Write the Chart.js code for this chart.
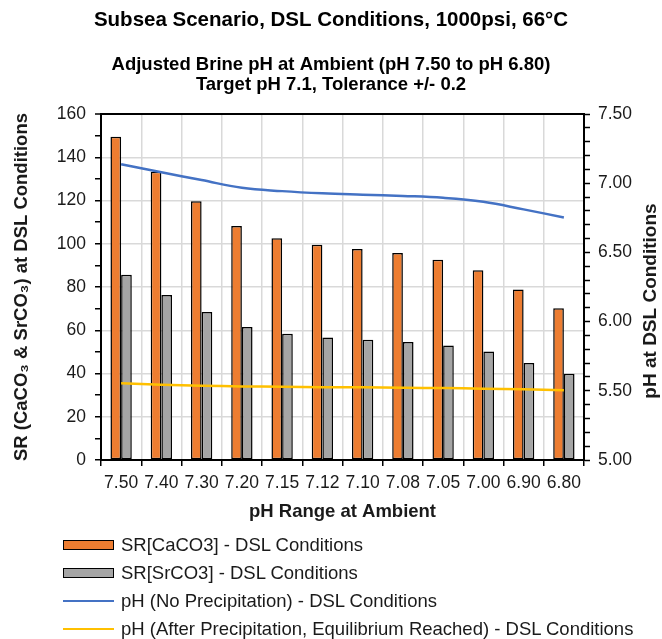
<!DOCTYPE html>
<html>
<head>
<meta charset="utf-8">
<script src="https://cdn.jsdelivr.net/npm/chart.js@4.4.0/dist/chart.umd.min.js"></script>
<style>
  html, body { margin: 0; padding: 0; background: #fff; }
  #wrap { position: relative; width: 662px; height: 639px; }
  #legend { position: absolute; left: 63px; top: 531px; font: 18.5px "Liberation Sans", Arial, sans-serif; color: #1a1a1a; }
  .item { height: 28px; display: flex; align-items: center; white-space: nowrap; }
  .swatch { width: 51px; height: 10px; margin-right: 7px; box-sizing: border-box; flex: none; }
</style>
</head>
<body>
<div id="wrap">
  <canvas id="chart" width="662" height="639"></canvas>
  <div id="legend"></div>
</div>
<script>
// Data
const categories = ['7.50', '7.40', '7.30', '7.20', '7.15', '7.12', '7.10', '7.08', '7.05', '7.00', '6.90', '6.80'];
const srCaCO3 = [149.5, 133.3, 119.7, 108.2, 102.6, 99.5, 97.6, 95.7, 92.6, 87.8, 78.9, 70.2];
const srSrCO3 = [85.7, 76.3, 68.4, 61.5, 58.4, 56.7, 55.6, 54.6, 52.9, 50.2, 44.9, 39.9];
const phNoPrecip = [7.137, 7.079, 7.023, 6.967, 6.943, 6.927, 6.917, 6.908, 6.895, 6.866, 6.811, 6.753];
const phAfterPrecip = [5.554, 5.544, 5.537, 5.532, 5.529, 5.525, 5.525, 5.522, 5.520, 5.515, 5.511, 5.504];

const seriesNames = [
  'SR[CaCO3] - DSL Conditions',
  'SR[SrCO3] - DSL Conditions',
  'pH (No Precipitation) - DSL Conditions',
  'pH (After Precipitation, Equilibrium Reached) - DSL Conditions'
];
const mainTitle = 'Subsea Scenario, DSL Conditions, 1000psi, 66°C';
const subTitle = ['Adjusted Brine pH at Ambient (pH 7.50 to pH 6.80)', 'Target pH 7.1, Tolerance +/- 0.2'];
const xTitle = 'pH Range at Ambient';
const leftTitle = 'SR (CaCO₃ & SrCO₃) at DSL Conditions';
const rightTitle = 'pH at DSL Conditions';

const textColor = '#1a1a1a';
const gridColor = '#d9d9d9';

Chart.defaults.font.family = '"Liberation Sans", Arial, sans-serif';
Chart.defaults.color = textColor;

// right axis title reads bottom-to-top like the left one
const rightTitlePlugin = {
  id: 'rightTitle',
  afterDraw(chart) {
    const ctx = chart.ctx;
    ctx.save();
    ctx.font = 'bold 19px "Liberation Sans", Arial, sans-serif';
    ctx.fillStyle = textColor;
    ctx.textAlign = 'center';
    ctx.textBaseline = 'middle';
    ctx.translate(651, 301);
    ctx.rotate(-Math.PI / 2);
    ctx.fillText(rightTitle, 0, 0);
    ctx.restore();
  }
};

const chart = new Chart(document.getElementById('chart'), {
  type: 'bar',
  data: {
    labels: categories,
    datasets: [
      {
        label: seriesNames[0], data: srCaCO3, yAxisID: 'y', order: 2,
        backgroundColor: '#ED7D31', borderColor: '#000', borderWidth: 1.5, borderSkipped: false,
        categoryPercentage: 0.53, barPercentage: 1
      },
      {
        label: seriesNames[1], data: srSrCO3, yAxisID: 'y', order: 2,
        backgroundColor: '#A5A5A5', borderColor: '#000', borderWidth: 1.5, borderSkipped: false,
        categoryPercentage: 0.53, barPercentage: 1
      },
      {
        type: 'line', label: seriesNames[2], data: phNoPrecip, yAxisID: 'y1', order: 0,
        borderColor: '#4472C4', borderWidth: 2.5, pointRadius: 0, tension: 0.4, fill: false
      },
      {
        type: 'line', label: seriesNames[3], data: phAfterPrecip, yAxisID: 'y1', order: 0,
        borderColor: '#FFC000', borderWidth: 2.5, pointRadius: 0, tension: 0.4, fill: false
      }
    ]
  },
  options: {
    responsive: false,
    animation: false,
    devicePixelRatio: 1,
    layout: { padding: { left: 0, right: 0, top: 0, bottom: 115 } },
    plugins: {
      legend: { display: false },
      tooltip: { enabled: false },
      title: {
        display: true, text: mainTitle, color: '#000',
        font: { size: 20.5, weight: 'bold', lineHeight: 1.2 },
        padding: { top: 7.7, bottom: 23 }
      },
      subtitle: {
        display: true, text: subTitle, color: '#000',
        font: { size: 18.5, weight: 'bold', lineHeight: 1.05 },
        padding: { top: 0, bottom: 19.9 }
      }
    },
    scales: {
      x: {
        offset: true,
        ticks: { font: { size: 17.5 }, padding: 6.5, maxRotation: 0, autoSkip: false },
        grid: { color: gridColor, lineWidth: 1.5, tickColor: '#000', tickLength: 6, tickWidth: 1.5, offset: true },
        border: { color: '#000', width: 2 },
        title: { display: true, text: xTitle, font: { size: 18.5, weight: 'bold' }, padding: { top: 2, bottom: 1 } },
        afterFit: s => { s.height = 64; }
      },
      y: {
        position: 'left', min: 0, max: 160,
        ticks: {
          stepSize: 10, autoSkip: false, padding: 9, font: { size: 17.5 },
          callback: v => (v % 20 === 0 ? v : '')
        },
        grid: {
          color: c => (c.tick.value === 160 ? '#000' : (c.tick.value % 20 === 0 ? gridColor : 'rgba(0,0,0,0)')),
          lineWidth: c => (c.tick.value === 160 ? 2 : 1.5),
          tickColor: '#000', tickLength: 6, tickWidth: 1.5
        },
        border: { color: '#000', width: 2 },
        title: { display: true, text: leftTitle, font: { size: 18.5, weight: 'bold' }, padding: { top: 11, bottom: 0 } },
        afterFit: s => { s.width = 101; }
      },
      y1: {
        position: 'right', min: 5, max: 7.5,
        ticks: {
          stepSize: 0.1, autoSkip: false, padding: 8, font: { size: 17.5 },
          callback: v => { const t = Math.round(v * 10); return t % 5 === 0 ? (t / 10).toFixed(2) : ''; }
        },
        grid: { drawOnChartArea: false, tickColor: '#000', tickLength: 6, tickWidth: 1.5 },
        border: { color: '#000', width: 2 },
        afterFit: s => { s.width = 78; }
      }
    }
  },
  plugins: [rightTitlePlugin]
});

// legend as a vertical list under the chart
const legendEl = document.getElementById('legend');
chart.data.datasets.forEach(ds => {
  const row = document.createElement('div');
  row.className = 'item';
  const sw = document.createElement('span');
  sw.className = 'swatch';
  if (ds.type === 'line') {
    sw.style.height = '2.5px';
    sw.style.background = ds.borderColor;
  } else {
    sw.style.background = ds.backgroundColor;
    sw.style.border = '1.5px solid #000';
  }
  const txt = document.createElement('span');
  txt.textContent = ds.label;
  row.appendChild(sw);
  row.appendChild(txt);
  legendEl.appendChild(row);
});
</script>
</body>
</html>
